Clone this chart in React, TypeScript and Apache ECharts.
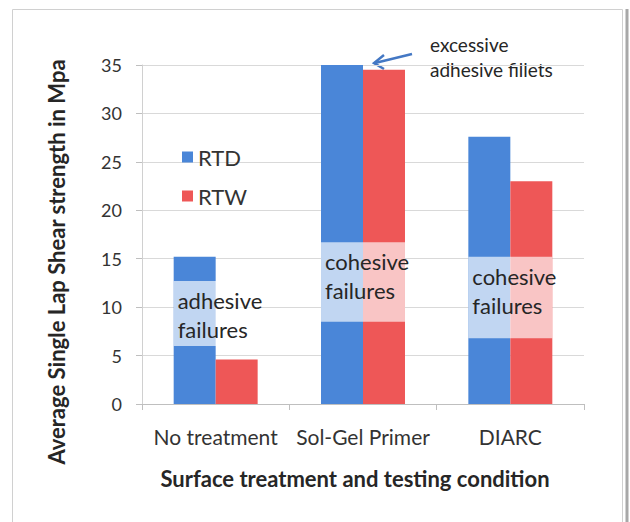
import React, { useEffect, useRef } from "react";
import * as echarts from "echarts";

const categories = ["No treatment", "Sol-Gel Primer", "DIARC"];
const rtd = [15.2, 35, 27.6];
const rtw = [4.6, 34.5, 23];
const overlayTop = [12.7, 16.7, 15.2];
const overlayBottom = [6.0, 8.5, 6.8];
const overlayLabels = ["adhesive\nfailures", "cohesive\nfailures", "cohesive\nfailures"];
const yTicks = { min: 0, max: 35, interval: 5 };

const FONT = "Lato, 'Open Sans', sans-serif";

export default function App() {
  const ref = useRef<HTMLDivElement>(null);
  useEffect(() => {
    if (!ref.current) return;
    const chart = echarts.init(ref.current, null, { renderer: "svg" });
    const overlayData = categories.map((_, i) => [i, overlayTop[i], overlayBottom[i]]);
    chart.setOption({
      animation: false,
      backgroundColor: "#ffffff",
      textStyle: { fontFamily: FONT },
      grid: { left: 142, right: 46, top: 65, bottom: 118 },
      legend: {
        data: ["RTD", "RTW"],
        orient: "vertical",
        left: 177,
        top: 140,
        itemWidth: 11,
        itemHeight: 11,
        itemGap: 15,
        icon: "rect",
        textStyle: { fontFamily: FONT, fontSize: 22, color: "#333", lineHeight: 24 },
      },
      xAxis: {
        type: "category",
        data: categories,
        axisLine: { show: true, lineStyle: { color: "#BFBFBF", width: 1 } },
        axisTick: { show: true, length: 6, lineStyle: { color: "#BFBFBF" } },
        axisLabel: { fontFamily: FONT, fontSize: 21, color: "#333", margin: 22, interval: 0 },
      },
      yAxis: {
        type: "value",
        min: yTicks.min,
        max: yTicks.max,
        interval: yTicks.interval,
        axisLine: { show: true, lineStyle: { color: "#D0D0D0", width: 1 } },
        axisTick: { show: true, length: 6, lineStyle: { color: "#BFBFBF" } },
        axisLabel: { fontFamily: FONT, fontSize: 18, color: "#333", margin: 20 },
        splitLine: { lineStyle: { color: "#D9D9D9", width: 1 } },
      },
      series: [
        {
          name: "RTD",
          type: "bar",
          data: rtd,
          barGap: "0%",
          barCategoryGap: "43%",
          itemStyle: { color: "#4A86D8" },
        },
        {
          name: "RTW",
          type: "bar",
          data: rtw,
          barGap: "0%",
          barCategoryGap: "43%",
          itemStyle: { color: "#EE5757" },
        },
        {
          name: "overlay",
          type: "custom",
          z: 5,
          data: overlayData,
          renderItem: (params: any, api: any) => {
            const c = api.value(0);
            const p1 = api.coord([c, api.value(1)]);
            const p2 = api.coord([c, api.value(2)]);
            const band = api.size([1, 0])[0];
            const half = band * 0.285;
            return {
              type: "group",
              children: [
                {
                  type: "rect",
                  shape: { x: p1[0] - half, y: p1[1], width: 2 * half, height: p2[1] - p1[1] },
                  style: { fill: "rgba(255,255,255,0.66)" },
                },
                {
                  type: "text",
                  x: p1[0] - half + 4,
                  y: p1[1] + 5,
                  style: {
                    text: overlayLabels[params.dataIndex],
                    fontFamily: FONT,
                    fontSize: 22,
                    lineHeight: 29,
                    fill: "#262626",
                    align: "left",
                    verticalAlign: "top",
                  },
                },
              ],
            };
          },
        },
      ],
      graphic: [
        {
          type: "polyline",
          shape: { points: [[12.5, 522], [12.5, 9.5], [622.5, 9.5], [622.5, 522]] },
          style: { fill: "none", stroke: "#D0D0D0", lineWidth: 1 },
          z: -1,
        },
        {
          type: "line",
          shape: { x1: 627, y1: 9, x2: 627, y2: 522 },
          style: { stroke: "#A8A8A8", lineWidth: 3 },
        },
        {
          type: "text",
          x: 56,
          y: 262,
          rotation: Math.PI / 2,
          style: {
            text: "Average Single Lap Shear strength in Mpa",
            fontFamily: FONT,
            fontSize: 22,
            fontWeight: "bold",
            fill: "#262626",
            align: "center",
            verticalAlign: "middle",
          },
        },
        {
          type: "text",
          x: 355,
          y: 478,
          style: {
            text: "Surface treatment and testing condition",
            fontFamily: FONT,
            fontSize: 22,
            fontWeight: "bold",
            fill: "#262626",
            align: "center",
            verticalAlign: "middle",
          },
        },
        {
          type: "text",
          x: 430,
          y: 32,
          style: {
            text: "excessive\nadhesive fillets",
            fontFamily: FONT,
            fontSize: 19,
            lineHeight: 25,
            fill: "#262626",
            align: "left",
            verticalAlign: "top",
          },
        },
        {
          type: "line",
          shape: { x1: 412, y1: 54, x2: 375, y2: 63 },
          style: { stroke: "#4478C4", lineWidth: 2.5 },
        },
        {
          type: "polyline",
          shape: { points: [[384, 55], [374, 63], [384, 69]] },
          style: { stroke: "#4478C4", lineWidth: 2.5, fill: "none" },
        },
      ],
    });
    return () => chart.dispose();
  }, []);
  return (
    <div
      ref={ref}
      style={{ position: "absolute", left: 0, top: 0, width: 630, height: 522 }}
    />
  );
}
